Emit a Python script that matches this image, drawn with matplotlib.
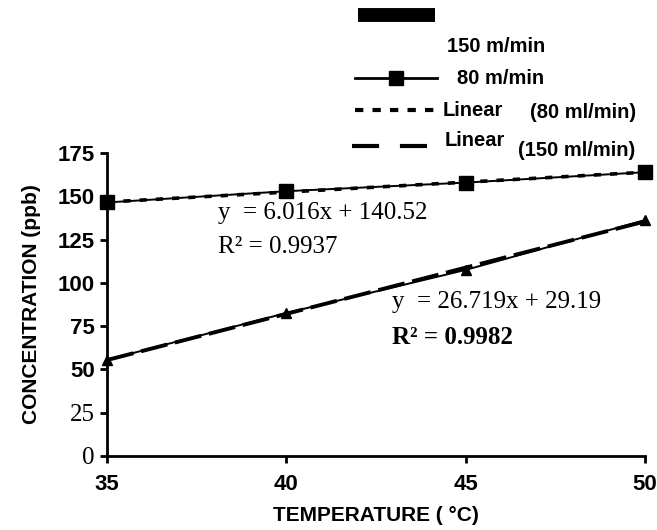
import numpy as np
import matplotlib.pyplot as plt
from matplotlib.lines import Line2D

# data
temp = [35, 40, 45, 50]
conc_80 = [146.5, 153, 158, 164]     # 80 m/min (squares)
conc_150 = [55.5, 82.6, 107.5, 136.3]  # 150 m/min (triangles)
yticks = [0, 25, 50, 75, 100, 125, 150, 175]
xticks = [35, 40, 45, 50]

plt.rcParams['font.family'] = 'Liberation Sans'

fig = plt.figure(figsize=(6.57, 5.30), dpi=100)
ax = fig.add_axes([0.163, 0.140, 0.819, 0.571])

# trend lines (excel style, fitted against point index)
idx = np.arange(1, len(temp) + 1)
p80 = np.polyfit(idx, conc_80, 1)
p150 = np.polyfit(idx, conc_150, 1)

ax.plot(temp, np.polyval(p80, idx), color='black', lw=2.6, ls=(0, (2, 2.5)))
ax.plot(temp, np.polyval(p150, idx), color='black', lw=2.8, ls=(0, (7, 2)))
ax.plot(temp, conc_80, color='black', lw=1.4, marker='s', ms=10)
ax.plot(temp, conc_150, color='black', lw=1.4, marker='^', ms=7)

ax.set_xlim(35, 50)
ax.set_ylim(0, 175)
ax.set_xticks(xticks)
ax.set_yticks(yticks)
ax.set_xticklabels([str(t) for t in xticks], fontsize=16, fontweight='bold')
labs = ax.set_yticklabels([str(t) for t in yticks], fontsize=16, fontweight='bold')
for l in labs[:2]:
    l.set_family('Liberation Serif')
    l.set_fontweight('normal')
    l.set_fontsize(18)
ax.tick_params(axis='both', direction='out', length=5, width=2, pad=4)
ax.tick_params(axis='x', pad=8)
for s in ['top', 'right']:
    ax.spines[s].set_visible(False)
for s in ['left', 'bottom']:
    ax.spines[s].set_linewidth(2)
for ln in ax.lines:
    ln.set_clip_on(False)

ax.set_xlabel('TEMPERATURE ( °C)', fontsize=15, fontweight='bold', labelpad=8)
ax.set_ylabel('CONCENTRATION (ppb)', fontsize=15, fontweight='bold', labelpad=12)

# equations
ser = dict(family='Liberation Serif', fontsize=18, transform=fig.transFigure)
fig.text(218/657, 1 - 213/530, 'y  = 6.016x + 140.52', va='center', **ser)
fig.text(218/657, 1 - 247/530, 'R² = 0.9937', va='center', **ser)
fig.text(392/657, 1 - 302/530, 'y  = 26.719x + 29.19', va='center', **ser)
fig.text(392/657, 1 - 337/530, 'R² = 0.9982', va='center', fontweight='bold', **ser)

# legend, laid out like the original
def sample(x0, x1, y, **kw):
    fig.add_artist(Line2D([x0/657, x1/657], [1 - y/530, 1 - y/530], color='black', **kw))

sample(358, 435, 15, lw=10, solid_capstyle='butt')
sample(355, 437, 78, lw=2)
fig.add_artist(Line2D([396/657], [1 - 78/530], marker='s', ms=10, color='black'))
sample(355, 435, 110, lw=3, ls=(0, (2, 2.2)))
sample(352, 430, 146, lw=3, ls=(0, (6.5, 5)))

leg = dict(fontsize=14.5, fontweight='bold', va='center', transform=fig.transFigure)
fig.text(447/657, 1 - 46/530, '150 m/min', **leg)
fig.text(457/657, 1 - 78/530, '80 m/min', **leg)
fig.text(443/657, 1 - 110/530, 'Linear', **leg)
fig.text(530/657, 1 - 112/530, '(80 ml/min)', **leg)
fig.text(445/657, 1 - 141/530, 'Linear', **leg)
fig.text(518/657, 1 - 151/530, '(150 ml/min)', **leg)

fig.savefig('out.png', dpi=100)
